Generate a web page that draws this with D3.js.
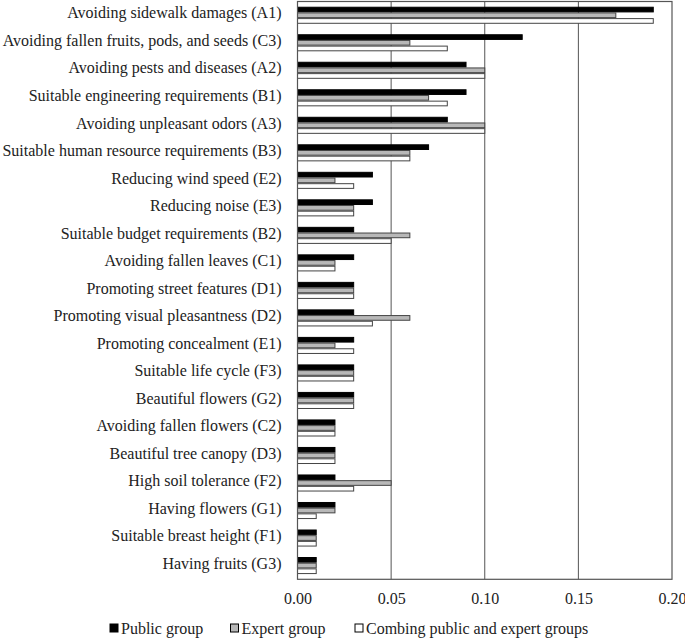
<!DOCTYPE html>
<html><head><meta charset="utf-8">
<script src="https://cdn.jsdelivr.net/npm/d3@7"></script>
<style>body{margin:0;background:#fff}svg{display:block}text{font-family:"Liberation Serif","Times New Roman",serif;fill:#222}</style>
</head><body><svg id="c" width="685" height="639"></svg>
<script>
const categories = ["Avoiding sidewalk damages (A1)","Avoiding fallen fruits, pods, and seeds (C3)","Avoiding pests and diseases (A2)","Suitable engineering requirements (B1)","Avoiding unpleasant odors (A3)","Suitable human resource requirements (B3)","Reducing wind speed (E2)","Reducing noise (E3)","Suitable budget requirements (B2)","Avoiding fallen leaves (C1)","Promoting street features (D1)","Promoting visual pleasantness (D2)","Promoting concealment (E1)","Suitable life cycle (F3)","Beautiful flowers (G2)","Avoiding fallen flowers (C2)","Beautiful tree canopy (D3)","High soil tolerance (F2)","Having flowers (G1)","Suitable breast height (F1)","Having fruits (G3)"];
const publicGroup = [0.19,0.12,0.09,0.09,0.08,0.07,0.04,0.04,0.03,0.03,0.03,0.03,0.03,0.03,0.03,0.02,0.02,0.02,0.02,0.01,0.01];
const expertGroup = [0.17,0.06,0.10,0.07,0.10,0.06,0.02,0.03,0.06,0.02,0.03,0.06,0.02,0.03,0.03,0.02,0.02,0.05,0.02,0.01,0.01];
const combinedGroup = [0.19,0.08,0.10,0.08,0.10,0.06,0.03,0.03,0.05,0.02,0.03,0.04,0.03,0.03,0.03,0.02,0.02,0.03,0.01,0.01,0.01];
const seriesNames = ["Public group","Expert group","Combing public and expert groups"];
const xTicks = [0,0.05,0.10,0.15,0.20];

const fills = ["#000","#b8b8b8","#fff"];
const FONT = '"Liberation Serif","Times New Roman",serif';
const svg = d3.select("#c");
const L=297.5, R=672, T=1.5, B=579.3;
const x = d3.scaleLinear().domain([0,0.2]).range([L,R]);
const y = d3.scaleBand().domain(categories).range([T,B]).paddingInner(0.38).paddingOuter(0.19);
const sub = d3.scaleBand().domain([0,1,2]).range([0,y.bandwidth()]);
const series=[publicGroup,expertGroup,combinedGroup];

// gridlines
svg.append("g").selectAll("line").data(xTicks.slice(1,-1)).join("line")
 .attr("x1",d=>x(d)).attr("x2",d=>x(d)).attr("y1",T).attr("y2",B)
 .attr("stroke","#555").attr("stroke-width",1);

// bars
series.forEach((vals,si)=>{
  svg.append("g").selectAll("rect").data(vals).join("rect")
   .attr("x",x(0)).attr("y",(d,i)=>y(categories[i])+sub(si)+0.5)
   .attr("width",d=>x(d)-x(0)).attr("height",sub.bandwidth()-1)
   .attr("fill",fills[si]).attr("stroke",si===0?"#000":"#444").attr("stroke-width",1);
});

// frame
svg.append("rect").attr("x",L).attr("y",T).attr("width",R-L).attr("height",B-T)
 .attr("fill","none").attr("stroke","#555").attr("stroke-width",1.2);

// y labels
const ya = svg.append("g").attr("transform",`translate(${L},0)`)
 .call(d3.axisLeft(y).tickSize(0).tickPadding(16));
ya.attr("font-family",FONT);
ya.select(".domain").remove();
ya.selectAll("text").style("font-family",FONT).style("font-size","16px").attr("fill","#222")
 .attr("dy","0.2em");

// x axis
const xa = svg.append("g").attr("transform",`translate(0,${B})`)
 .call(d3.axisBottom(x).tickValues(xTicks).tickFormat(d3.format(".2f")).tickSize(0).tickPadding(13));
xa.attr("font-family",FONT);
xa.select(".domain").remove();
xa.selectAll("text").style("font-family",FONT).style("font-size","16px").attr("fill","#333");

// legend
const legX=[110,230.5,355];
const lg = svg.append("g");
seriesNames.forEach((n,i)=>{
  lg.append("rect").attr("x",legX[i]).attr("y",624).attr("width",8).attr("height",8)
   .attr("fill",fills[i]).attr("stroke","#000").attr("stroke-width",1);
  lg.append("text").attr("x",legX[i]+11).attr("y",633.5).style("font-family",FONT).style("font-size","16px").text(n);
});
</script></body></html>
